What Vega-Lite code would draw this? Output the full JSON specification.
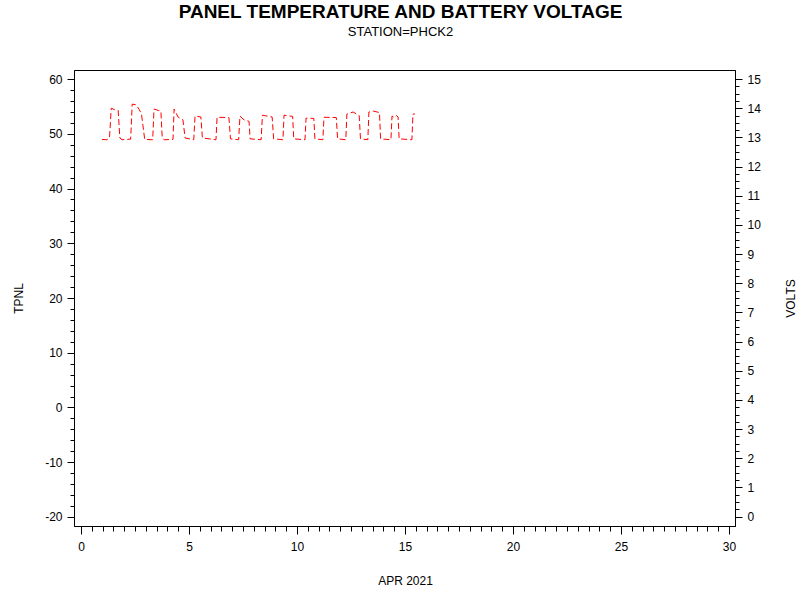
{
  "$schema": "https://vega.github.io/schema/vega-lite/v6.json",
  "autosize": "none",
  "width": 661,
  "height": 456,
  "padding": {"left": 74, "top": 70, "right": 65, "bottom": 74},
  "background": "white",
  "config": {
    "view": {"stroke": "black", "strokeWidth": 1},
    "font": "Liberation Sans",
    "axis": {"labelFont": "Liberation Sans", "titleFont": "Liberation Sans", "labelFontSize": 12, "titleFontSize": 12, "titleFontWeight": "normal", "labelColor": "black", "titleColor": "black", "tickColor": "black", "domainColor": "black", "grid": false}
  },
  "title": {
    "text": "PANEL TEMPERATURE AND BATTERY VOLTAGE",
    "subtitle": "STATION=PHCK2",
    "anchor": "middle",
    "frame": "group",
    "font": "Liberation Sans",
    "fontSize": 19,
    "fontWeight": "bold",
    "color": "black",
    "subtitleFont": "Liberation Sans",
    "subtitleFontSize": 13,
    "subtitleColor": "black",
    "subtitlePadding": 4,
    "offset": 31,
    "dx": -4
  },
  "data": {"values": [
    {"day": 0.97, "volts": 12.93}, {"day": 1.2, "volts": 12.92}, {"day": 1.32, "volts": 12.98}, {"day": 1.4, "volts": 14.0}, {"day": 1.55, "volts": 13.95}, {"day": 1.72, "volts": 13.93}, {"day": 1.8, "volts": 12.98}, {"day": 1.9, "volts": 12.92},
    {"day": 2.3, "volts": 12.94}, {"day": 2.37, "volts": 14.14}, {"day": 2.55, "volts": 14.12}, {"day": 2.7, "volts": 13.95}, {"day": 2.8, "volts": 13.8}, {"day": 2.95, "volts": 12.93},
    {"day": 3.32, "volts": 12.92}, {"day": 3.38, "volts": 13.97}, {"day": 3.6, "volts": 13.92}, {"day": 3.7, "volts": 13.9}, {"day": 3.76, "volts": 12.98}, {"day": 3.85, "volts": 12.92},
    {"day": 4.26, "volts": 12.93}, {"day": 4.31, "volts": 13.97}, {"day": 4.5, "volts": 13.69}, {"day": 4.72, "volts": 13.6}, {"day": 4.82, "volts": 12.98},
    {"day": 5.22, "volts": 12.92}, {"day": 5.28, "volts": 13.73}, {"day": 5.55, "volts": 13.7}, {"day": 5.62, "volts": 12.98},
    {"day": 6.25, "volts": 12.92}, {"day": 6.3, "volts": 13.69}, {"day": 6.85, "volts": 13.68}, {"day": 6.92, "volts": 12.95},
    {"day": 7.3, "volts": 12.92}, {"day": 7.36, "volts": 13.73}, {"day": 7.55, "volts": 13.6}, {"day": 7.78, "volts": 13.55}, {"day": 7.83, "volts": 12.95},
    {"day": 8.34, "volts": 12.92}, {"day": 8.4, "volts": 13.76}, {"day": 8.85, "volts": 13.7}, {"day": 8.92, "volts": 12.95},
    {"day": 9.35, "volts": 12.92}, {"day": 9.4, "volts": 13.76}, {"day": 9.8, "volts": 13.72}, {"day": 9.85, "volts": 12.95},
    {"day": 10.37, "volts": 12.92}, {"day": 10.42, "volts": 13.66}, {"day": 10.78, "volts": 13.65}, {"day": 10.83, "volts": 12.95},
    {"day": 11.2, "volts": 12.92}, {"day": 11.25, "volts": 13.69}, {"day": 11.82, "volts": 13.68}, {"day": 11.88, "volts": 12.95},
    {"day": 12.26, "volts": 12.92}, {"day": 12.31, "volts": 13.8}, {"day": 12.6, "volts": 13.87}, {"day": 12.88, "volts": 13.75}, {"day": 12.94, "volts": 12.95},
    {"day": 13.28, "volts": 12.92}, {"day": 13.33, "volts": 13.87}, {"day": 13.55, "volts": 13.9}, {"day": 13.82, "volts": 13.85}, {"day": 13.87, "volts": 12.95},
    {"day": 14.35, "volts": 12.92}, {"day": 14.4, "volts": 13.73}, {"day": 14.5, "volts": 13.68}, {"day": 14.6, "volts": 13.75}, {"day": 14.68, "volts": 13.7}, {"day": 14.73, "volts": 12.95},
    {"day": 15.32, "volts": 12.92}, {"day": 15.37, "volts": 13.8}, {"day": 15.46, "volts": 13.8}
  ]},
  "encoding": {
    "x": {
      "field": "day", "type": "quantitative",
      "scale": {"domain": [-0.324, 30.28], "nice": false, "zero": false},
      "axis": {
        "title": "APR 2021",
        "values": [0,0.5,1,1.5,2,2.5,3,3.5,4,4.5,5,5.5,6,6.5,7,7.5,8,8.5,9,9.5,10,10.5,11,11.5,12,12.5,13,13.5,14,14.5,15,15.5,16,16.5,17,17.5,18,18.5,19,19.5,20,20.5,21,21.5,22,22.5,23,23.5,24,24.5,25,25.5,26,26.5,27,27.5,28,28.5,29,29.5,30],
        "labelExpr": "datum.value % 5 === 0 ? ('' + datum.value) : ''",
        "tickSize": {"condition": {"test": "datum.value % 5 === 0", "value": 8}, "value": 5},
        "labelPadding": 7,
        "labelFlush": false,
        "labelOverlap": false,
        "titleX": 331,
        "titleY": 54,
        "titleBaseline": "middle"
      }
    }
  },
  "layer": [
    {
      "mark": {"type": "line", "color": "black"},
      "encoding": {
        "y": {
          "field": "tpnl", "type": "quantitative",
          "scale": {"domain": [-21.65, 61.65], "nice": false, "zero": false},
          "axis": {
            "orient": "left",
            "title": "TPNL",
            "values": [-20,-18,-16,-14,-12,-10,-8,-6,-4,-2,0,2,4,6,8,10,12,14,16,18,20,22,24,26,28,30,32,34,36,38,40,42,44,46,48,50,52,54,56,58,60],
            "labelExpr": "datum.value % 10 === 0 ? ('' + datum.value) : ''",
            "tickSize": {"condition": {"test": "datum.value % 10 === 0", "value": 7}, "value": 4},
            "labelPadding": 5,
            "labelFlush": false,
            "labelOverlap": false,
            "titleAngle": 270,
            "titleX": -56,
            "titleY": 228,
            "titleBaseline": "middle",
            "titleAlign": "center"
          }
        }
      }
    },
    {
      "mark": {"type": "line", "color": "red", "strokeWidth": 1, "strokeDash": [6, 3]},
      "encoding": {
        "y": {
          "field": "volts", "type": "quantitative",
          "scale": {"domain": [-0.32, 15.31], "nice": false, "zero": false},
          "axis": {
            "orient": "right",
            "title": "VOLTS",
            "values": [0,0.25,0.5,0.75,1,1.25,1.5,1.75,2,2.25,2.5,2.75,3,3.25,3.5,3.75,4,4.25,4.5,4.75,5,5.25,5.5,5.75,6,6.25,6.5,6.75,7,7.25,7.5,7.75,8,8.25,8.5,8.75,9,9.25,9.5,9.75,10,10.25,10.5,10.75,11,11.25,11.5,11.75,12,12.25,12.5,12.75,13,13.25,13.5,13.75,14,14.25,14.5,14.75,15],
            "labelExpr": "datum.value % 1 === 0 ? ('' + datum.value) : ''",
            "tickSize": {"condition": {"test": "datum.value % 1 === 0", "value": 7}, "value": 4},
            "labelPadding": 5,
            "labelFlush": false,
            "labelOverlap": false,
            "titleAngle": 270,
            "titleX": 55,
            "titleY": 228,
            "titleBaseline": "middle",
            "titleAlign": "center"
          }
        }
      }
    }
  ],
  "resolve": {"scale": {"y": "independent"}, "axis": {"y": "independent"}}
}
